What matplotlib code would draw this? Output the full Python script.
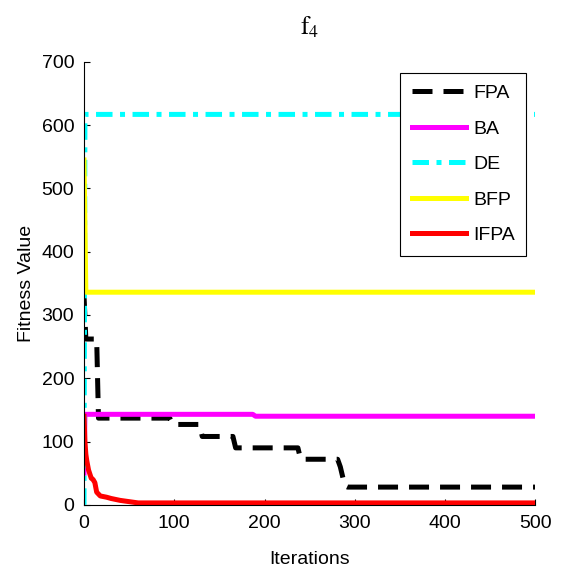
import matplotlib
matplotlib.use('Agg')
import matplotlib.pyplot as plt

plt.rcParams['font.family'] = ['Liberation Sans', 'DejaVu Sans']
plt.rcParams['mathtext.fontset'] = 'stix'
fs = 14

# data (iterations, fitness value)
fpa_x = [0, 2, 14, 16, 95, 98, 128, 131, 165, 168, 237, 240, 281, 284, 289, 292, 500]
fpa_y = [330, 262, 262, 137, 137, 127, 127, 108, 108, 90, 90, 72, 72, 60, 30, 28, 28]

ba_x = [0, 1, 187, 190, 500]
ba_y = [50, 143, 143, 140, 140]

de_x = [0, 1, 500]
de_y = [0, 617, 617]

bfp_x = [0, 2, 500]
bfp_y = [545, 336, 336]

ifpa_x = [0, 1, 2, 3, 5, 8, 10, 12, 14, 18, 25, 30, 40, 50, 60, 500]
ifpa_y = [140, 100, 80, 70, 55, 42, 40, 35, 20, 14, 12, 10, 7, 5, 3, 3]

fig = plt.figure(figsize=(5.64, 5.73), dpi=100)
ax = fig.add_axes([0.149, 0.119, 0.80, 0.773])

lw = 3.6
ax.plot(fpa_x, fpa_y, color='black', lw=lw, dashes=(4, 2.2), label='FPA')
ax.plot(ba_x, ba_y, color='#FF00FF', lw=lw, label='BA')
ax.plot(de_x, de_y, color='#00FFFF', lw=lw, dashes=(3.3, 1.5, 1.0, 1.5), label='DE')
ax.plot(bfp_x, bfp_y, color='#FFFF00', lw=lw, label='BFP')
ax.plot(ifpa_x, ifpa_y, color='#FF0000', lw=lw, label='IFPA')

ax.set_xlim(0, 500)
ax.set_ylim(0, 700)
ax.set_xticks(range(0, 501, 100))
ax.set_yticks(range(0, 701, 100))
ax.tick_params(direction='in', length=4, labelsize=fs, width=0.8, pad=7)
ax.spines['top'].set_visible(False)
ax.spines['right'].set_visible(False)

ax.set_xlabel('Iterations', fontsize=fs, labelpad=14)
ax.set_ylabel('Fitness Value', fontsize=fs, labelpad=5)
ax.set_title(r'$\mathrm{f_4}$', fontsize=18, pad=20)

leg = ax.legend(loc='upper left', bbox_to_anchor=(400 / 564, 1 - 73 / 573),
                bbox_transform=fig.transFigure, fontsize=fs,
                fancybox=False, edgecolor='black', framealpha=1,
                handlelength=2.8, labelspacing=0.92, borderpad=0.6,
                handletextpad=0.35, borderaxespad=0)
leg.get_frame().set_linewidth(0.8)

fig.savefig('out.png', dpi=100)
